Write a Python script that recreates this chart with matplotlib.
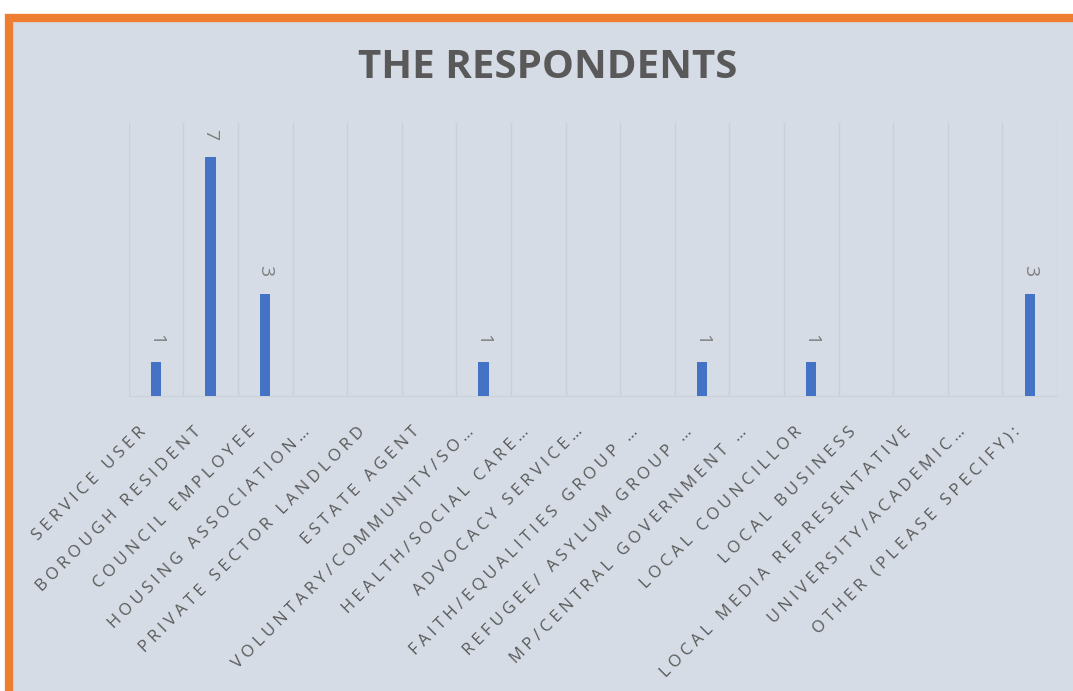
import matplotlib
matplotlib.use("Agg")
import matplotlib.pyplot as plt
from matplotlib.patches import Rectangle
from matplotlib.transforms import ScaledTranslation

categories = [
    "SERVICE USER", "BOROUGH RESIDENT", "COUNCIL EMPLOYEE", "HOUSING ASSOCIATION\u2026",
    "PRIVATE SECTOR LANDLORD", "ESTATE AGENT", "VOLUNTARY/COMMUNITY/SO\u2026",
    "HEALTH/SOCIAL CARE\u2026", "ADVOCACY SERVICE\u2026", "FAITH/EQUALITIES GROUP \u2026",
    "REFUGEE/ ASYLUM GROUP \u2026", "MP/CENTRAL GOVERNMENT \u2026", "LOCAL COUNCILLOR",
    "LOCAL BUSINESS", "LOCAL MEDIA REPRESENTATIVE", "UNIVERSITY/ACADEMIC\u2026",
    "OTHER (PLEASE SPECIFY):",
]
values = [1, 7, 3, 0, 0, 0, 1, 0, 0, 0, 1, 0, 1, 0, 0, 0, 3]
title = "THE RESPONDENTS"

BG = "#D6DCE5"
BLUE = "#4472C4"
ORANGE = "#ED7D31"
FONTS = ["Open Sans", "DejaVu Sans"]


def tracked(s, sp="\u2005"):
    # emulate letter spacing of the original chart
    return sp.join(s)


fig = plt.figure(figsize=(10.73, 6.91), dpi=100)
fig.patch.set_facecolor("white")

W, H = 1073, 691
rect = Rectangle((9 / W, -0.1), 1.2, 1 - 18 / H + 0.1, transform=fig.transFigure,
                 facecolor=BG, edgecolor=ORANGE, linewidth=6, zorder=-5)
fig.patches.append(rect)

ax = fig.add_axes([128.7 / W, 1 - 396 / H, (1057 - 128.7) / W, (396 - 123) / H])
ax.set_zorder(2)
ax.set_facecolor(BG)
x = list(range(len(categories)))
ax.bar(x, values, width=0.19, color=BLUE, zorder=3)
ax.set_xlim(-0.5, len(categories) - 0.5)
ax.set_ylim(0, 8)

for b in [i - 0.5 for i in range(len(categories) + 1)]:
    ax.axvline(b, color="#CBCFD6", linewidth=1, zorder=1)

for s in ["top", "left", "right"]:
    ax.spines[s].set_visible(False)
ax.spines["bottom"].set_color("#CBCFD6")
ax.set_yticks([])
ax.set_xticks(x)
ax.set_xticklabels([tracked(c) for c in categories], rotation=45, ha="right",
                   va="center", rotation_mode="anchor", fontsize=12,
                   color="#595959", family=FONTS)
ax.tick_params(axis="x", length=0, pad=24)
shift = ScaledTranslation(-12 / 100, 0, fig.dpi_scale_trans)
for lab in ax.get_xticklabels():
    lab.set_transform(lab.get_transform() + shift)

for xi, v in zip(x, values):
    if v > 0:
        ax.text(xi, v + 0.5, str(v), rotation=-90, ha="center", va="bottom",
                fontsize=14, color="#7F7F7F", family=FONTS)

fig.text(548 / W, 1 - 78 / H, title, ha="center", va="baseline",
         fontsize=29, fontweight="bold", color="#595959", family=FONTS)

fig.savefig("out.png", dpi=100, facecolor=fig.get_facecolor())
